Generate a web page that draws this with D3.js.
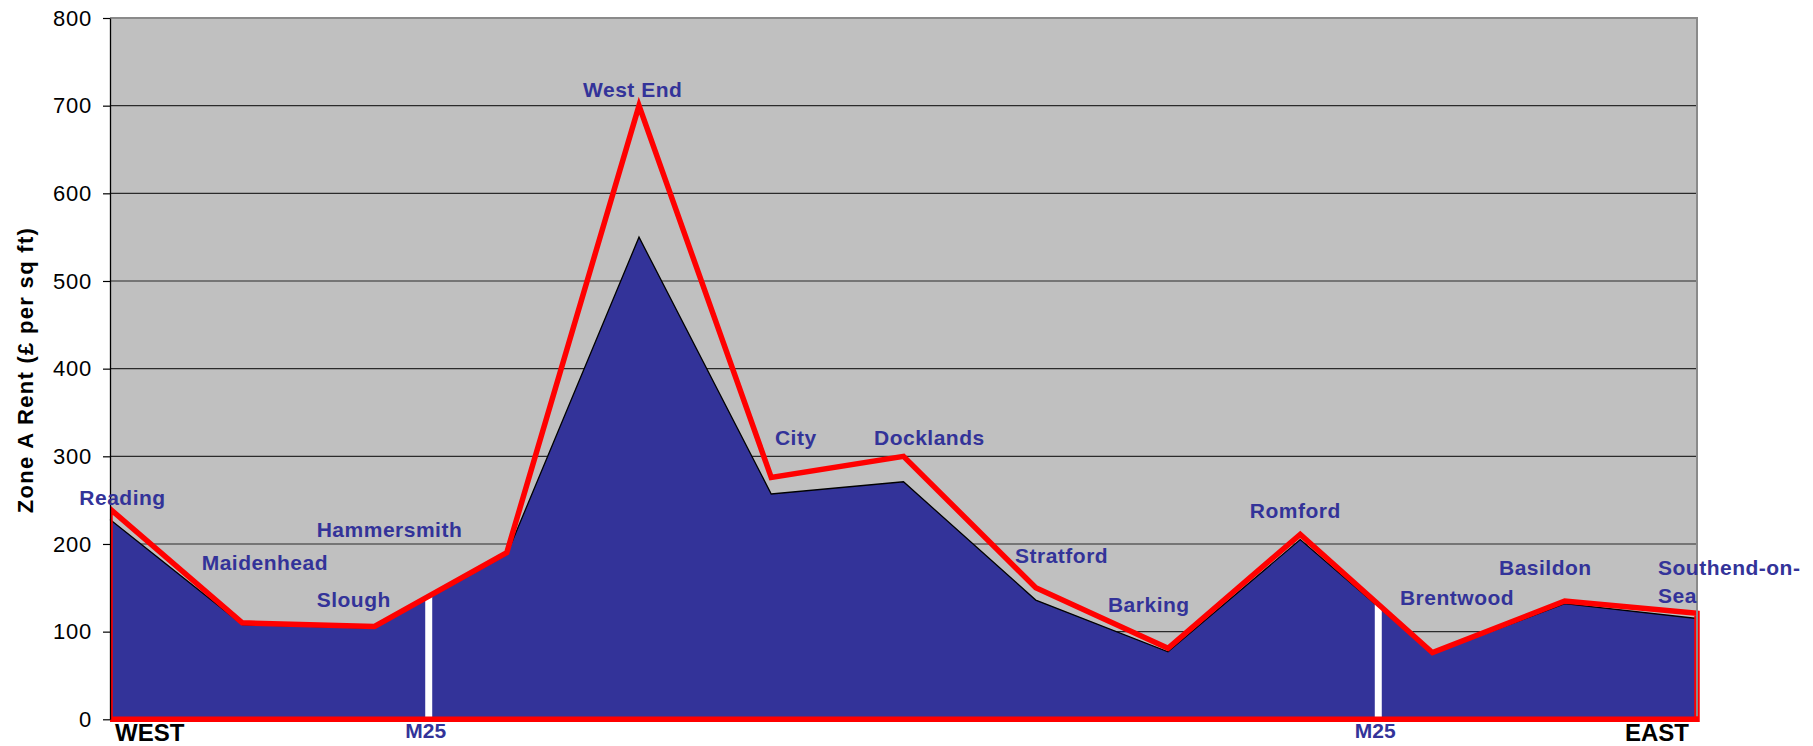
<!DOCTYPE html>
<html>
<head>
<meta charset="utf-8">
<script src="https://cdn.jsdelivr.net/npm/d3@7"></script>
<style>
  html, body { margin: 0; padding: 0; background: #ffffff; }
  svg { display: block; font-family: "Liberation Sans", Arial, Helvetica, sans-serif; }
</style>
</head>
<body>
<svg id="chart" width="1813" height="746"></svg>
<script>
// ---- data ----
const categories = ["Reading", "Maidenhead", "Slough", "Hammersmith", "West End", "City",
  "Docklands", "Stratford", "Barking", "Romford", "Brentwood", "Basildon", "Southend-on-Sea"];
const primeRent = [240, 110, 106, 190, 700, 276, 300, 150, 81, 211, 76, 135, 121];
const otherRent = [228, 108, 104, 188, 550, 257, 271, 136, 77, 205, 75, 132, 115];
const yTicks = [0, 100, 200, 300, 400, 500, 600, 700, 800];
const m25Positions = [2.41, 9.59];          // in category units (between towns)
const m25Label = "M25";
const yTitle = "Zone A Rent (£ per sq ft)";
const endLabels = ["WEST", "EAST"];

// label texts with their placement (category units, value units) — layout only
const labelTexts = ["Reading", "Maidenhead", "Hammersmith", "Slough", "West End", "City",
  "Docklands", "Stratford", "Barking", "Romford", "Brentwood", "Basildon", "Southend-on-", "Sea"];
const labelAt = [[-0.232, 244.5], [0.693, 170.3], [1.563, 208.3], [1.563, 128.4], [3.577, 709.5],
  [5.028, 313], [5.777, 313], [6.843, 178], [7.546, 122.7], [8.618, 229.3], [9.754, 130.4],
  [10.503, 164.8], [11.705, 164.8], [11.705, 132.8]];

// ---- layout ----
const W = 1813, H = 746;
const plot = { left: 110, right: 1697, top: 18, bottom: 719.3 };
const blue = "#333399", red = "#ff0000";

const svg = d3.select("#chart");

const x = d3.scaleLinear().domain([0, categories.length - 1]).range([plot.left, plot.right]);
const y = d3.scaleLinear().domain([0, 800]).range([plot.bottom, plot.top]);

// background
svg.append("rect")
  .attr("x", plot.left).attr("y", plot.top)
  .attr("width", plot.right - plot.left).attr("height", plot.bottom - plot.top)
  .attr("fill", "#c0c0c0");

// gridlines
svg.append("g").selectAll("line").data(yTicks.filter(d => d > 0)).join("line")
  .attr("x1", plot.left).attr("x2", plot.right)
  .attr("y1", d => y(d)).attr("y2", d => y(d))
  .attr("stroke", "#2a2a2a").attr("stroke-width", 1.2);

// blue area
const idx = d3.range(categories.length);
const area = d3.area().x(i => x(i)).y0(y(0)).y1(i => y(otherRent[i]));
svg.append("path")
  .attr("d", area(idx))
  .attr("fill", blue);
svg.append("path")
  .attr("d", d3.line().x(i => x(i)).y(i => y(otherRent[i]))(idx))
  .attr("fill", "none").attr("stroke", "#000").attr("stroke-width", 1.3);

// M25 white markers
function interpRed(p) {
  const i0 = Math.floor(p), t = p - i0;
  return primeRent[i0] + (primeRent[i0 + 1] - primeRent[i0]) * t;
}
svg.append("g").selectAll("line").data(m25Positions).join("line")
  .attr("x1", d => x(d)).attr("x2", d => x(d))
  .attr("y1", y(0)).attr("y2", d => y(interpRed(d)))
  .attr("stroke", "#ffffff").attr("stroke-width", 7);

// red outline series (area border, no fill)
svg.append("clipPath").attr("id", "clipL")
  .append("rect").attr("x", plot.left).attr("y", 0).attr("width", W - plot.left).attr("height", H);
const redPts = [[x(0), y(0)], ...idx.map(i => [x(i), y(primeRent[i])]), [x(idx.length - 1), y(0)]];
svg.append("path")
  .attr("d", d3.line()(redPts) + "Z")
  .attr("fill", "none").attr("stroke", red).attr("stroke-width", 5.5)
  .attr("stroke-linejoin", "miter")
  .attr("clip-path", "url(#clipL)");

// plot border (top / right)
svg.append("path")
  .attr("d", `M${plot.left},${plot.top}H${plot.right}V${plot.bottom - 3}`)
  .attr("fill", "none").attr("stroke", "#8a8a8a").attr("stroke-width", 2);

// y axis
const yAxis = d3.axisLeft(y).tickValues(yTicks).tickSize(7).tickPadding(11).tickSizeOuter(0);
const gy = svg.append("g").attr("transform", `translate(${plot.left},0)`).call(yAxis);
gy.select(".domain").attr("stroke", "#000").attr("stroke-width", 1.3);
gy.selectAll(".tick line").attr("stroke", "#000").attr("stroke-width", 1.2);
gy.selectAll(".tick text")
  .attr("font-size", 22).attr("letter-spacing", "0.8px")
  .attr("fill", "#000").attr("font-family", "'Liberation Sans', Arial, sans-serif");

// y title
svg.append("text")
  .attr("transform", `translate(33,370) rotate(-90)`)
  .attr("text-anchor", "middle")
  .attr("font-size", 22).attr("font-weight", "bold").attr("letter-spacing", "1.3px")
  .attr("fill", "#000")
  .text(yTitle);

// place labels
svg.append("g").selectAll("text").data(labelTexts).join("text")
  .attr("x", (d, i) => x(labelAt[i][0]))
  .attr("y", (d, i) => y(labelAt[i][1]))
  .attr("font-size", 21).attr("font-weight", "bold").attr("letter-spacing", "0.5px")
  .attr("fill", blue)
  .text(d => d);

// M25 labels
svg.append("g").selectAll("text").data(m25Positions).join("text")
  .attr("x", d => x(d) - 3).attr("y", 738)
  .attr("text-anchor", "middle")
  .attr("font-size", 21).attr("font-weight", "bold")
  .attr("fill", blue)
  .text(m25Label);

// WEST / EAST
svg.append("text").attr("x", x(0) + 5).attr("y", 741)
  .attr("font-size", 24).attr("font-weight", "bold").attr("fill", "#000")
  .text(endLabels[0]);
svg.append("text").attr("x", x(categories.length - 1) - 8).attr("y", 741)
  .attr("text-anchor", "end")
  .attr("font-size", 24).attr("font-weight", "bold").attr("fill", "#000")
  .text(endLabels[1]);
</script>
</body>
</html>
